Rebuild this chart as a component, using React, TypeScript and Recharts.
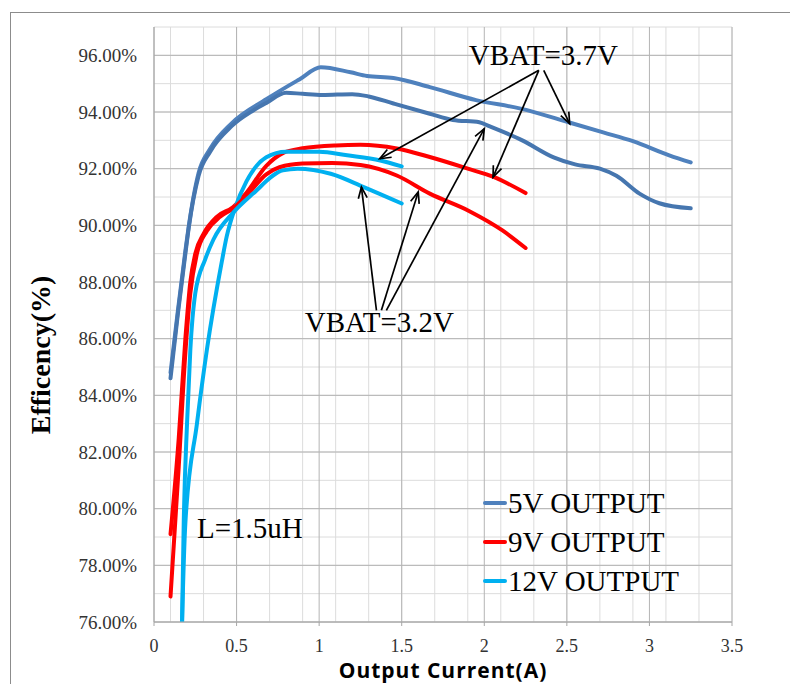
import React from 'react';
import { LineChart, Line, XAxis, YAxis, CartesianGrid, Legend, ReferenceLine, ReferenceDot, Label } from 'recharts';

// ---- axis ticks ----
const xTicks = [0, 0.5, 1, 1.5, 2, 2.5, 3, 3.5];
const yTicks = [76, 78, 80, 82, 84, 86, 88, 90, 92, 94, 96];
const xMinor = Array.from({ length: 36 }, (_, i) => i / 10);
const yMinor = [76, 77, 78, 79, 80, 81, 82, 83, 84, 85, 86, 87, 88, 89, 90, 91, 92, 93, 94, 95, 96, 97];
const legendOrder = ['5V OUTPUT', '9V OUTPUT', '12V OUTPUT'];

// ---- 5V OUTPUT ----
const cur5v37 = [0.1, 0.145, 0.19, 0.21, 0.27, 0.34, 0.47, 0.68, 0.88, 1.01, 1.19, 1.29, 1.45, 1.67, 1.95, 2.22, 2.52, 2.72, 2.9, 3.12, 3.25];
const eff5v37 = [84.8, 87.0, 89.1, 89.95, 91.85, 92.7, 93.6, 94.45, 95.15, 95.58, 95.4, 95.27, 95.2, 94.88, 94.42, 94.12, 93.62, 93.28, 92.97, 92.47, 92.22];
const cur5v32 = [0.1, 0.145, 0.19, 0.21, 0.27, 0.34, 0.47, 0.6, 0.68, 0.8, 0.9, 1.02, 1.2, 1.3, 1.45, 1.67, 1.81, 1.97, 2.03, 2.23, 2.42, 2.55, 2.7, 2.8, 2.94, 3.06, 3.25];
const eff5v32 = [84.6, 86.9, 89.0, 89.9, 91.75, 92.6, 93.5, 94.05, 94.32, 94.68, 94.64, 94.6, 94.63, 94.55, 94.3, 93.94, 93.72, 93.64, 93.5, 93.0, 92.4, 92.15, 92.0, 91.75, 91.12, 90.78, 90.6];

// ---- 9V OUTPUT ----
const cur9v37 = [0.1, 0.15, 0.19, 0.22, 0.25, 0.3, 0.38, 0.48, 0.56, 0.68, 0.78, 0.9, 1.1, 1.25, 1.47, 1.67, 1.9, 2.06, 2.25];
const eff9v37 = [79.1, 82.5, 86.0, 88.0, 89.0, 89.7, 90.3, 90.65, 91.15, 92.1, 92.55, 92.72, 92.82, 92.84, 92.71, 92.41, 92.0, 91.7, 91.14];
const cur9v32 = [0.1, 0.15, 0.19, 0.22, 0.26, 0.32, 0.4, 0.48, 0.56, 0.68, 0.76, 0.9, 1.08, 1.25, 1.47, 1.67, 1.91, 2.11, 2.25];
const eff9v32 = [76.9, 81.5, 85.5, 87.6, 89.0, 89.8, 90.3, 90.6, 91.05, 91.8, 92.05, 92.18, 92.2, 92.13, 91.76, 91.12, 90.5, 89.82, 89.2];

// ---- 12V OUTPUT ----
const cur12v37 = [0.15, 0.17, 0.19, 0.26, 0.32, 0.41, 0.44, 0.49, 0.56, 0.68, 0.8, 1.0, 1.17, 1.37, 1.5];
const eff12v37 = [70.5, 76.0, 79.5, 83.0, 85.6, 88.7, 89.6, 90.6, 91.55, 92.4, 92.6, 92.6, 92.47, 92.29, 92.08];
const cur12v32 = [0.15, 0.17, 0.18, 0.2, 0.22, 0.25, 0.31, 0.36, 0.48, 0.6, 0.78, 0.87, 1.07, 1.27, 1.5];
const eff12v32 = [70.5, 76.0, 79.5, 83.0, 85.6, 87.6, 88.8, 89.5, 90.45, 91.12, 91.94, 92.0, 91.82, 91.35, 90.77];

// ---- annotations (data coordinates) ----
const arrows37 = [
  { from: [2.33, 95.47], to: [1.367, 92.35] },
  { from: [2.33, 95.47], to: [2.053, 91.7] },
  { from: [2.36, 95.47], to: [2.517, 93.59] },
];
const arrows32 = [
  { from: [1.347, 87.0], to: [1.256, 91.35] },
  { from: [1.377, 87.0], to: [1.6, 91.18] },
  { from: [1.407, 87.0], to: [2.0, 93.41] },
];
const notes = [
  { text: 'VBAT=3.7V', x: 1.906, y: 95.65 },
  { text: 'VBAT=3.2V', x: 0.913, y: 86.23 },
  { text: 'L=1.5uH', x: 0.26, y: 78.95 },
];

const toPts = (xs: number[], ys: number[]) => xs.map((x, i) => ({ x, y: ys[i] }));

const series = [
  { name: '5V OUTPUT', data: toPts(cur5v37, eff5v37), color: '#4f81bd', legend: true },
  { name: '9V OUTPUT', data: toPts(cur9v37, eff9v37), color: '#ff0000', legend: true },
  { name: '12V OUTPUT', data: toPts(cur12v37, eff12v37), color: '#00b0f0', legend: true },
  { name: '5V OUTPUT 3.2V', data: toPts(cur5v32, eff5v32), color: '#4676af', legend: false },
  { name: '9V OUTPUT 3.2V', data: toPts(cur9v32, eff9v32), color: '#ff0000', legend: false },
  { name: '12V OUTPUT 3.2V', data: toPts(cur12v32, eff12v32), color: '#00b0f0', legend: false },
];

const ArrowShape = (props: any) => {
  const { x1, y1, x2, y2 } = props;
  const ang = Math.atan2(y2 - y1, x2 - x1);
  const L = 12;
  const a = 0.38;
  const ax = x2 - L * Math.cos(ang - a);
  const ay = y2 - L * Math.sin(ang - a);
  const bx = x2 - L * Math.cos(ang + a);
  const by = y2 - L * Math.sin(ang + a);
  return (
    <g>
      <line x1={x1} y1={y1} x2={x2} y2={y2} stroke="#000" strokeWidth={1.7} />
      <polyline points={`${ax},${ay} ${x2},${y2} ${bx},${by}`} fill="none" stroke="#000" strokeWidth={1.7} />
    </g>
  );
};

const renderLegend = (props: any) => {
  const payload = (props.payload || [])
    .filter((p: any) => legendOrder.includes(String(p.value)))
    .sort((a: any, b: any) => legendOrder.indexOf(String(a.value)) - legendOrder.indexOf(String(b.value)));
  return (
    <div>
      {payload.map((p: any) => (
        <div key={p.value} style={{ display: 'flex', alignItems: 'center', height: 38.7 }}>
          <span style={{ display: 'inline-block', width: 24, height: 4, background: p.color, borderRadius: 2 }} />
          <span style={{ fontFamily: '"Liberation Serif", serif', fontSize: 29, color: '#000', marginLeft: 1, lineHeight: '38px' }}>{p.value}</span>
        </div>
      ))}
    </div>
  );
};

export default function App() {
  return (
    <div style={{ position: 'absolute', left: 0, top: 0, width: 790, height: 684, background: '#fff', overflow: 'hidden' }}>
      <div style={{ position: 'absolute', left: 10, top: 12, width: 800, height: 700, borderTop: '1px solid #8c8c8c', borderLeft: '1px solid #8c8c8c' }} />
      <LineChart width={790} height={684} margin={{ top: 27, right: 58, bottom: 0, left: 0 }}>
        <CartesianGrid stroke="#dcdcdc" strokeWidth={1} horizontalValues={yMinor} verticalValues={xMinor} />
        <CartesianGrid stroke="#b4b4b4" strokeWidth={1} horizontalValues={yTicks} verticalValues={xTicks} />
        <XAxis
          type="number"
          dataKey="x"
          domain={[0, 3.5]}
          ticks={xTicks}
          allowDataOverflow
          height={62}
          stroke="#a6a6a6"
          tickSize={4}
          tickMargin={13}
          tick={{ fontFamily: '"Liberation Serif", serif', fontSize: 18, fill: '#333' }}
          tickFormatter={(v: number) => String(v)}
        >
          <Label
            content={() => (
              <text x={443} y={678} textAnchor="middle" style={{ fontFamily: '"Open Sans", sans-serif', fontWeight: 700, fontSize: 21, letterSpacing: 1, fill: '#000' }}>
                Output Current(A)
              </text>
            )}
          />
        </XAxis>
        <YAxis
          type="number"
          domain={[76, 97]}
          ticks={yTicks}
          allowDataOverflow
          width={154}
          stroke="#a6a6a6"
          tickLine={false}
          tickSize={0}
          tickMargin={17}
          tick={{ fontFamily: '"Liberation Serif", serif', fontSize: 19, fill: '#333' }}
          tickFormatter={(v: number) => v.toFixed(2) + '%'}
        >
          <Label
            content={() => (
              <text x={50} y={355} transform="rotate(-90 50 355)" textAnchor="middle" style={{ fontFamily: '"Liberation Serif", serif', fontWeight: 700, fontSize: 28, fill: '#000' }}>
                Efficency(%)
              </text>
            )}
          />
        </YAxis>
        {series.map((s) => (
          <Line
            key={s.name}
            data={s.data}
            dataKey="y"
            name={s.name}
            type="monotone"
            stroke={s.color}
            strokeWidth={4}
            strokeLinecap="round"
            dot={false}
            activeDot={false}
            legendType={s.legend ? 'line' : 'none'}
            isAnimationActive={false}
          />
        ))}
        {[...arrows37, ...arrows32].map((a, i) => (
          <ReferenceLine
            key={'ar' + i}
            segment={[{ x: a.from[0], y: a.from[1] }, { x: a.to[0], y: a.to[1] }]}
            ifOverflow="visible"
            shape={ArrowShape}
          />
        ))}
        {notes.map((n) => (
          <ReferenceDot
            key={n.text}
            x={n.x}
            y={n.y}
            r={0}
            ifOverflow="visible"
            shape={(p: any) => (
              <text x={p.cx} y={p.cy} style={{ fontFamily: '"Liberation Serif", serif', fontSize: 29, fill: '#000' }}>
                {n.text}
              </text>
            )}
          />
        ))}
        <Legend
          layout="vertical"
          verticalAlign="middle"
          align="center"
          wrapperStyle={{ position: 'absolute', left: 483, top: 484, width: 260, height: 120 }}
          content={renderLegend}
        />
      </LineChart>
    </div>
  );
}
